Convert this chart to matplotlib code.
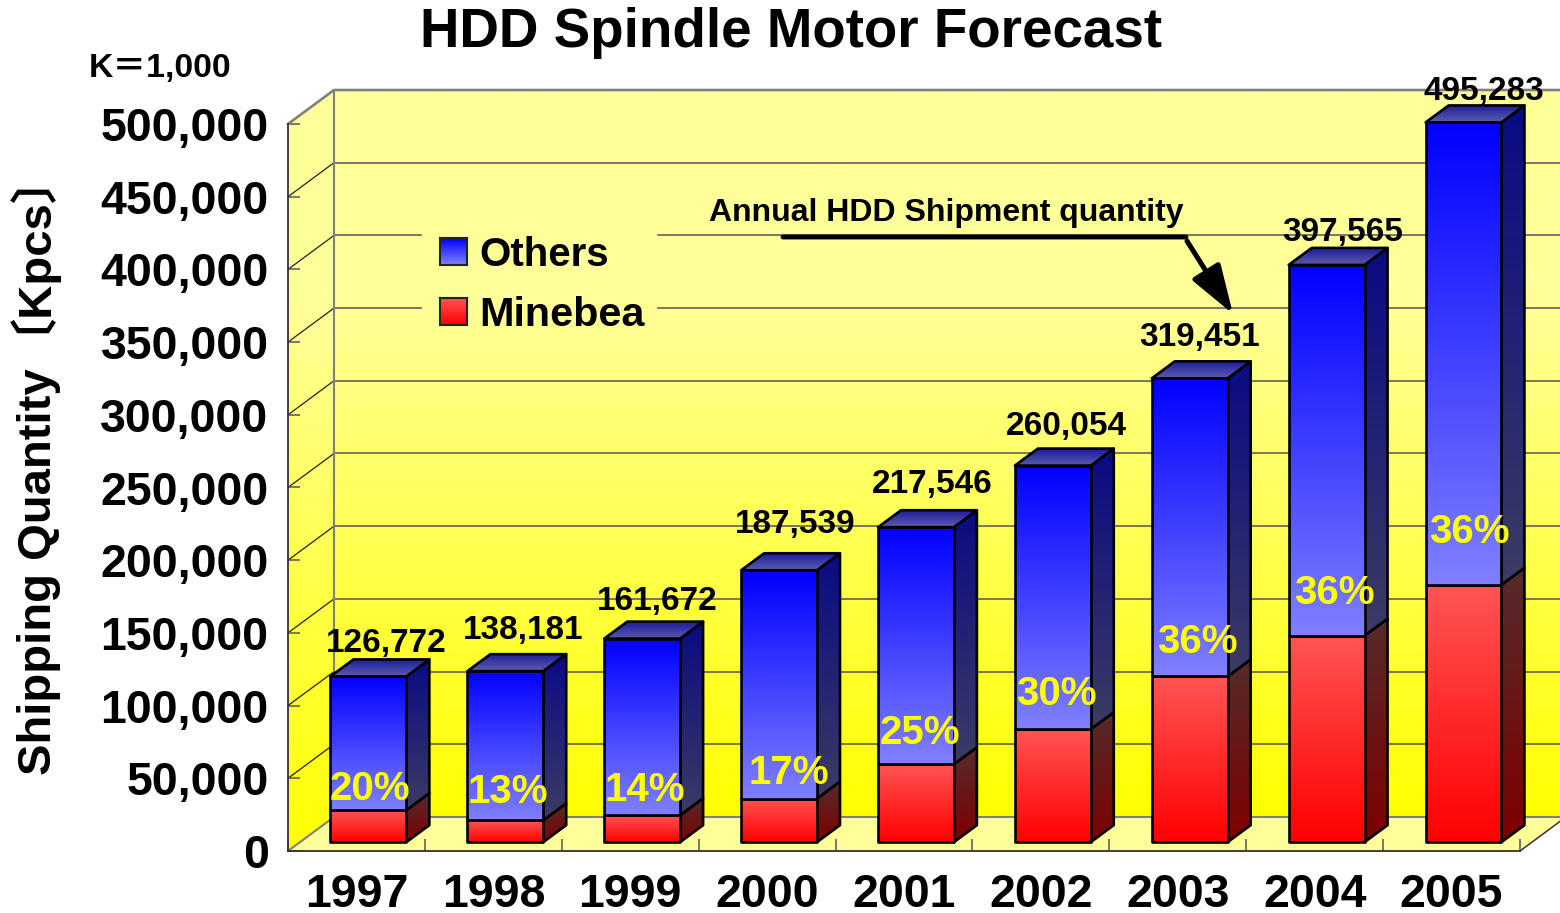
import numpy as np
from matplotlib import pyplot as plt
from matplotlib.colors import LinearSegmentedColormap
from matplotlib.patches import Polygon

years = ['1997', '1998', '1999', '2000', '2001', '2002', '2003', '2004', '2005']
minebea = [22000, 15000, 18500, 30000, 53600, 77700, 114000, 142000, 177000]
others = [92000, 102600, 121500, 157000, 163000, 181300, 205000, 255000, 318000]
total_labels = ['126,772', '138,181', '161,672', '187,539', '217,546', '260,054', '319,451', '397,565', '495,283']
share_labels = ['20%', '13%', '14%', '17%', '25%', '30%', '36%', '36%', '36%']

# label nudges in pixels, relative to the top of the bar front face
total_nudge = [(18, 33), (18, 41), (15, 37), (16, 46), (16, 43), (14, 39), (10, 41), (16, 32), (20, 31)]
share_nudge = [(2, 21), (3, 28), (3, 25), (10, 26), (4, 31), (4, 35), (8, 34), (8, 43), (6, 53)]

W, H = 1560, 913
LEFT, RIGHT, BOTTOM, TOP = 288, 1520, 851, 124
DX = 46 / 136.9
DY = 34 / 727 * 500000
D_FRONT = 0.26
D_BACK = 0.76
HALF = 0.277

WALL = [(0, '#ffff99'), (0.29, '#ffff99'), (1, '#ffff00')]
BLUE = {'front': ['#0000ff', '#8080ff'], 'side': ['#0a0a85', '#3c3c64']}
RED = {'front': ['#ff5555', '#ff0000'], 'side': ['#552b2b', '#7f0000']}
TOP_FACE = ['#1c1c9c', '#5c5cac']

plt.rcParams['font.family'] = ['Liberation Sans', 'Noto Sans CJK JP']
plt.rcParams['font.weight'] = 'bold'

fig = plt.figure(figsize=(W / 100, H / 100), dpi=100)
ax = fig.add_axes([LEFT / W, (H - BOTTOM) / H, (RIGHT - LEFT) / W, (BOTTOM - TOP) / H])
ax.set_facecolor('none')
ax.set_xlim(-0.5, 8.5)
ax.set_ylim(0, 500000)
ax.set_autoscale_on(False)


def fx(x):
    return x / W


def fy(y):
    return 1 - y / H


def shaded(verts, colors, z, edge='black', lw=1.9):
    verts = np.array(verts)
    cmap = LinearSegmentedColormap.from_list('g', colors)
    ext = [verts[:, 0].min(), verts[:, 0].max(), verts[:, 1].min(), verts[:, 1].max()]
    im = ax.imshow(np.linspace(0, 1, 256)[:, None], cmap=cmap, extent=ext, aspect='auto', zorder=z)
    im.set_clip_box(fig.bbox)
    poly = Polygon(verts, closed=True, fill=False, edgecolor=edge, linewidth=lw, zorder=z + 0.1,
                   clip_on=False, joinstyle='round')
    ax.add_patch(poly)
    im.set_clip_path(poly)
    if edge == 'none':
        poly.set_linewidth(0)


# walls and floor
x0, x1 = -0.5, 8.5
shaded([(x0 + DX, DY), (x1 + DX, DY), (x1 + DX, 500000 + DY), (x0 + DX, 500000 + DY)], WALL, 1, edge='none')
shaded([(x0, 0), (x0 + DX, DY), (x0 + DX, 500000 + DY), (x0, 500000)], WALL, 1, edge='none')
ax.add_patch(Polygon([(x0, 0), (x1, 0), (x1 + DX, DY), (x0 + DX, DY)], closed=True, facecolor='#ffff99',
                     edgecolor='none', zorder=1.2, clip_on=False))

for v in range(50000, 500000, 50000):
    ax.plot([x0, x0 + DX], [v, v + DY], color='#222222', lw=0.9, zorder=1.5, clip_on=False)
    if v in (350000, 400000):
        # the legend box hides these two lines
        ax.plot([x0 + DX, 0.472], [v + DY, v + DY], color='#555555', lw=1.1, zorder=1.5, clip_on=False)
        ax.plot([2.203, x1 + DX], [v + DY, v + DY], color='#555555', lw=1.1, zorder=1.5, clip_on=False)
    else:
        ax.plot([x0 + DX, x1 + DX], [v + DY, v + DY], color='#555555', lw=1.1, zorder=1.5, clip_on=False)

ax.plot([x0, x0 + DX, x1 + DX], [500000, 500000 + DY, 500000 + DY], color='#808080', lw=1.9, zorder=1.6, clip_on=False)
ax.plot([x0 + DX, x0 + DX], [DY, 500000 + DY], color='#808080', lw=1.5, zorder=1.6, clip_on=False)
ax.plot([x0, x0 + DX, x1 + DX], [0, DY, DY], color='#808080', lw=1.5, zorder=1.6, clip_on=False)
ax.plot([x1, x1 + DX], [0, DY], color='#333333', lw=1.1, zorder=1.6, clip_on=False)

# bars
for i in range(len(years)):
    z = 5 + i
    cx = i + D_FRONT * DX
    xl, xr = cx - HALF, cx + HALF
    base = D_FRONT * DY
    ddx = (D_BACK - D_FRONT) * DX
    ddy = (D_BACK - D_FRONT) * DY
    mid = base + minebea[i]
    top = mid + others[i]
    shaded([(xr, base), (xr + ddx, base + ddy), (xr + ddx, mid + ddy), (xr, mid)], RED['side'], z)
    shaded([(xr, mid), (xr + ddx, mid + ddy), (xr + ddx, top + ddy), (xr, top)], BLUE['side'], z + 0.2)
    shaded([(xl, base), (xr, base), (xr, mid), (xl, mid)], RED['front'], z + 0.4)
    shaded([(xl, mid), (xr, mid), (xr, top), (xl, top)], BLUE['front'], z + 0.6)
    shaded([(xl, top), (xr, top), (xr + ddx, top + ddy), (xl + ddx, top + ddy)], TOP_FACE, z + 0.8)

    ax.annotate(total_labels[i], xy=(cx, top), xytext=(total_nudge[i][0] * 0.72, total_nudge[i][1] * 0.72),
                textcoords='offset points', ha='center', va='center', fontsize=24, color='black',
                zorder=30, annotation_clip=False)
    ax.annotate(share_labels[i], xy=(cx, mid), xytext=(share_nudge[i][0] * 0.72, share_nudge[i][1] * 0.72),
                textcoords='offset points', ha='center', va='center', fontsize=29, color='#ffff00',
                zorder=30, annotation_clip=False)

# axes, ticks
for side in ('top', 'right'):
    ax.spines[side].set_visible(False)
for side in ('left', 'bottom'):
    ax.spines[side].set_color('#333333')
    ax.spines[side].set_linewidth(1.3)
    ax.spines[side].set_zorder(2)

y_ticks = list(range(0, 550000, 50000))
ax.set_yticks(y_ticks)
ax.set_yticklabels([f'{v:,}' for v in y_ticks], fontsize=33.5)
ax.tick_params(axis='y', direction='in', length=8.6, width=1.1, color='#555555', pad=14)
ax.set_xticks(range(len(years)))
ax.set_xticklabels(years, fontsize=33.5)
ax.set_xticks(np.arange(-0.5, 9, 1), minor=True)
ax.tick_params(axis='x', which='major', length=0, pad=16)
ax.tick_params(axis='x', which='minor', direction='in', length=8.6, width=1.1, color='#555555')

# texts
fig.text(fx(791), fy(33), 'HDD Spindle Motor Forecast', fontsize=39.4, ha='center', va='center')
fig.text(fx(89), fy(68), 'K＝1,000', fontsize=24.3, ha='left', va='center')
fig.text(fx(51), fy(775), 'Shipping Quantity', fontsize=34, rotation=90, ha='left', va='baseline',
         rotation_mode='anchor')
# the CJK brackets push this baseline to the right, so it starts further left
fig.text(fx(19), fy(333), '〔Kpcs〕', fontsize=34, rotation=90, ha='left', va='baseline',
         rotation_mode='anchor')

# legend
for y, colors, name, size in [(238, BLUE['front'], 'Others', 29), (298, RED['front'], 'Minebea', 29.8)]:
    sw = fig.add_axes([fx(440), fy(y + 27), 27 / W, 27 / H])
    sw.imshow(np.linspace(0, 1, 64)[:, None], cmap=LinearSegmentedColormap.from_list('s', colors), aspect='auto')
    sw.set_xticks([])
    sw.set_yticks([])
    for s in sw.spines.values():
        s.set_color('#222222')
        s.set_linewidth(1.5)
    fig.text(fx(479), fy(y + 16.5), name, fontsize=size, ha='left', va='center')

# shipment note
fig.text(fx(946), fy(213), 'Annual HDD Shipment quantity', fontsize=23, ha='center', va='center')
ax.annotate('', xy=(fx(783), fy(237)), xytext=(fx(1186), fy(237)), xycoords='figure fraction',
            textcoords='figure fraction', annotation_clip=False, zorder=31,
            arrowprops=dict(arrowstyle='-', color='black', lw=3.5, shrinkA=0, shrinkB=0))
ax.annotate('', xy=(fx(1233), fy(314)), xytext=(fx(1187), fy(241)), xycoords='figure fraction',
            textcoords='figure fraction', annotation_clip=False, zorder=31,
            arrowprops=dict(arrowstyle='-|>,head_length=1.0,head_width=0.33', mutation_scale=30,
                            color='black', lw=3.6, shrinkA=0, shrinkB=0))

fig.savefig('out.png', dpi=100)
plt.close()
